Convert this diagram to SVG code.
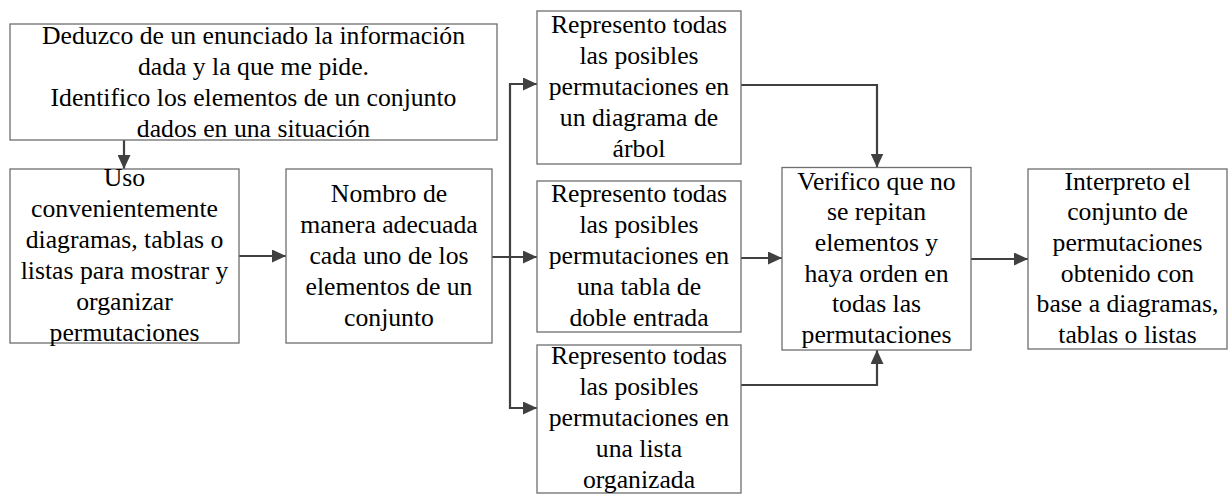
<svg xmlns="http://www.w3.org/2000/svg" width="1231" height="494" viewBox="0 0 1231 494">
<style>
.box{fill:#ffffff;stroke:#6e6e6e;stroke-width:1.3}
.lbl{font-family:"Liberation Serif","Times New Roman",serif;font-size:25.7px;fill:#000000;text-anchor:middle}
.con{fill:none;stroke:#404040;stroke-width:2.2}
</style>
<defs>
<marker id="arr" viewBox="0 0 14 13" refX="14" refY="6.5" markerWidth="14" markerHeight="13" markerUnits="userSpaceOnUse" orient="auto">
<path d="M0,0 L14,6.5 L0,13 z" fill="#404040"/>
</marker>
</defs>
<rect width="1231" height="494" fill="#ffffff"/>
<g id="connectors">
<path class="con" d="M124,140 V169" marker-end="url(#arr)"/>
<path class="con" d="M239,256 H286" marker-end="url(#arr)"/>
<path class="con" d="M492,257 H537" marker-end="url(#arr)"/>
<path class="con" d="M510,257 V84 H537" marker-end="url(#arr)"/>
<path class="con" d="M510,257 V408 H537" marker-end="url(#arr)"/>
<path class="con" d="M741,85 H877 V167.5" marker-end="url(#arr)"/>
<path class="con" d="M741,258 H782" marker-end="url(#arr)"/>
<path class="con" d="M741,385 H877 V350" marker-end="url(#arr)"/>
<path class="con" d="M971,259 H1028" marker-end="url(#arr)"/>
</g>
<g id="n1">
<rect class="box" x="10" y="24" width="487" height="116"/>
<text class="lbl"><tspan x="253.5" y="43.5">Deduzco de un enunciado la información</tspan><tspan x="253.5" y="74.5">dada y la que me pide.</tspan><tspan x="253.5" y="105.5">Identifico los elementos de un conjunto</tspan><tspan x="253.5" y="136.5">dados en una situación</tspan></text>
</g>
<g id="n2">
<rect class="box" x="10" y="169" width="229" height="174"/>
<text class="lbl"><tspan x="124.5" y="185.5">Uso</tspan><tspan x="124.5" y="216.5">convenientemente</tspan><tspan x="124.5" y="247.5">diagramas, tablas o</tspan><tspan x="124.5" y="278.5">listas para mostrar y</tspan><tspan x="124.5" y="309.5">organizar</tspan><tspan x="124.5" y="340.5">permutaciones</tspan></text>
</g>
<g id="n3">
<rect class="box" x="286" y="169" width="206" height="174"/>
<text class="lbl"><tspan x="389" y="202">Nombro de</tspan><tspan x="389" y="233">manera adecuada</tspan><tspan x="389" y="264">cada uno de los</tspan><tspan x="389" y="295">elementos de un</tspan><tspan x="389" y="326">conjunto</tspan></text>
</g>
<g id="n4">
<rect class="box" x="537" y="11" width="204" height="153"/>
<text class="lbl"><tspan x="639" y="33">Represento todas</tspan><tspan x="639" y="64">las posibles</tspan><tspan x="639" y="95">permutaciones en</tspan><tspan x="639" y="126">un diagrama de</tspan><tspan x="639" y="157">árbol</tspan></text>
</g>
<g id="n5">
<rect class="box" x="537" y="181" width="204" height="151"/>
<text class="lbl"><tspan x="639" y="201.5">Represento todas</tspan><tspan x="639" y="232.5">las posibles</tspan><tspan x="639" y="263.5">permutaciones en</tspan><tspan x="639" y="294.5">una tabla de</tspan><tspan x="639" y="325.5">doble entrada</tspan></text>
</g>
<g id="n6">
<rect class="box" x="537" y="345" width="204" height="148"/>
<text class="lbl"><tspan x="639" y="364">Represento todas</tspan><tspan x="639" y="395">las posibles</tspan><tspan x="639" y="426">permutaciones en</tspan><tspan x="639" y="457">una lista</tspan><tspan x="639" y="488">organizada</tspan></text>
</g>
<g id="n7">
<rect class="box" x="782" y="167.5" width="189" height="182.5"/>
<text class="lbl"><tspan x="876.5" y="189.5">Verifico que no</tspan><tspan x="876.5" y="220.2">se repitan</tspan><tspan x="876.5" y="250.9">elementos y</tspan><tspan x="876.5" y="281.6">haya orden en</tspan><tspan x="876.5" y="312.3">todas las</tspan><tspan x="876.5" y="343">permutaciones</tspan></text>
</g>
<g id="n8">
<rect class="box" x="1028" y="169" width="199" height="180"/>
<text class="lbl"><tspan x="1127.5" y="189.5">Interpreto el</tspan><tspan x="1127.5" y="220.2">conjunto de</tspan><tspan x="1127.5" y="250.9">permutaciones</tspan><tspan x="1127.5" y="281.6">obtenido con</tspan><tspan x="1127.5" y="312.3">base a diagramas,</tspan><tspan x="1127.5" y="343">tablas o listas</tspan></text>
</g>
</svg>
